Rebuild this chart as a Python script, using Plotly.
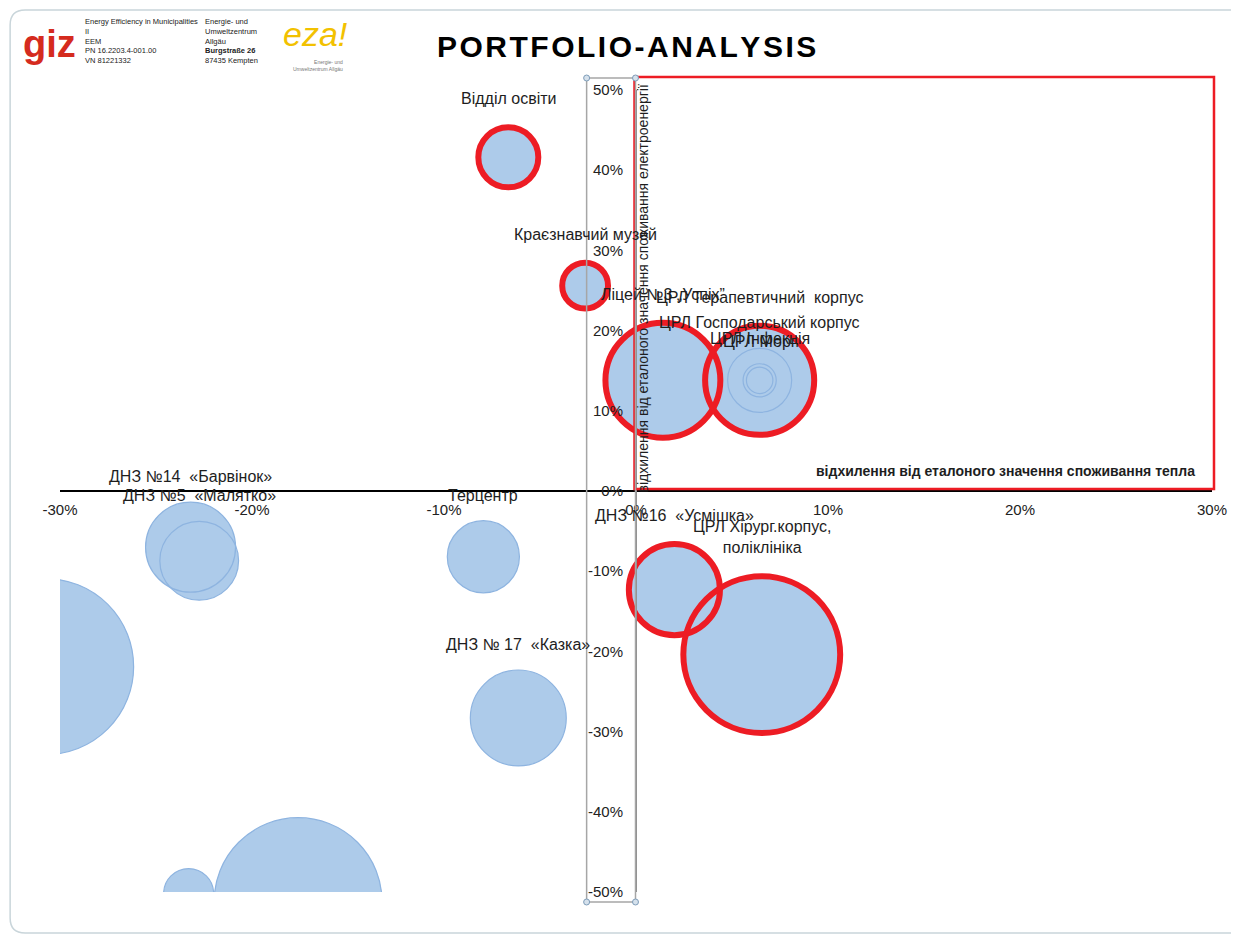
import math
import plotly.graph_objects as go

# ---------------- data ----------------
names = ["", "", "",
         "ДНЗ №14  «Барвінок»", "ДНЗ №5  «Малятко»", "Терцентр", "ДНЗ № 17  «Казка»",
         "Відділ освіти", "Краєзнавчий музей", "Ліцей №3 „Успіх”",
         "ЦРЛ Терапевтичний  корпус", "ЦРЛ Господарський корпус", "ЦРЛ Інфекція", "ЦРЛ Морг",
         "ДНЗ №16  «Усмішка»", "ЦРЛ Хірург.корпус,<br>поліклініка"]
heat_dev = [-0.3075, -0.176, -0.233, -0.232, -0.2275, -0.0795, -0.0613,
            -0.0665, -0.0265, 0.014, 0.0644, 0.0644, 0.0644, 0.0644, 0.020, 0.0655]
elec_dev = [-0.219, -0.512, -0.502, -0.070, -0.087, -0.082, -0.283,
            0.416, 0.256, 0.138, 0.138, 0.138, 0.138, 0.138, -0.123, -0.204]
bubble_size = [310, 282, 25, 81, 62, 52, 92, 36, 21, 132, 119, 41, 11, 7, 83, 246]
highlight = [0, 0, 0, 0, 0, 0, 0, 1, 1, 1, 1, 0, 0, 0, 1, 1]

x_ticks = [-0.3, -0.2, -0.1, 0.0, 0.1, 0.2, 0.3]
x_tick_labels = ["-30%", "-20%", "-10%", "0%", "10%", "20%", "30%"]
y_ticks = [-0.5, -0.4, -0.3, -0.2, -0.1, 0.0, 0.1, 0.2, 0.3, 0.4, 0.5]
y_tick_labels = ["-50%", "-40%", "-30%", "-20%", "-10%", "0%", "10%", "20%", "30%", "40%", "50%"]

title_text = "PORTFOLIO-ANALYSIS"
x_title = "відхилення від еталоного значення споживання тепла"
y_title = "відхилення від еталоного значення споживання електроенергії"

# ---------------- style ----------------
FILL = "#ADCBEA"
BLUE_LINE = "#8EB4E0"
RED = "#ED1C24"
FONT = "Liberation Sans, Arial, sans-serif"
SIZEREF = 0.02
RING = 6
OFF = 8                      # page body margin
W, H = 1231, 928
L, R, T, B = 52, 24, 82, 44

line_colors = [RED if h else BLUE_LINE for h in highlight]
line_widths = [RING if h else 1.2 for h in highlight]

fig = go.Figure()
fig.add_trace(go.Scatter(
    x=heat_dev, y=elec_dev, mode="markers", hoverinfo="skip", showlegend=False,
    marker=dict(size=bubble_size, sizemode="area", sizeref=SIZEREF, color=FILL,
                line=dict(width=0), opacity=1),
))
fig.add_trace(go.Scatter(
    x=heat_dev, y=elec_dev, mode="markers", text=names, hoverinfo="text+x+y", showlegend=False,
    marker=dict(size=bubble_size, sizemode="area", sizeref=SIZEREF, color="rgba(0,0,0,0)",
                opacity=1, line=dict(color=line_colors, width=line_widths)),
))

pw, ph = W - L - R, H - T - B
def px(xp):
    return (xp - OFF - L) / pw
def py(yp):
    return (OFF + H - B - yp) / ph

shapes = []
# chart frame (rounded)
x0, x1, y0, y1 = px(10), px(1237), py(933), py(10)
rx, ry = 15 / pw, 15 / ph
shapes.append(dict(
    type="path", xref="paper", yref="paper", layer="below",
    path=(f"M {x0+rx} {y1} L {x1} {y1} L {x1} {y0} L {x0+rx} {y0} "
          f"Q {x0} {y0} {x0} {y0+ry} L {x0} {y1-ry} Q {x0} {y1} {x0+rx} {y1} Z"),
    line=dict(color="#C9D5DA", width=1.5)))
# red quadrant frame
shapes.append(dict(type="rect", xref="paper", yref="paper", layer="above",
                   x0=px(636), x1=px(1217), y0=py(489), y1=py(77),
                   line=dict(color=RED, width=2.5)))
# selection box around vertical axis
shapes.append(dict(type="rect", xref="paper", yref="paper", layer="above",
                   x0=px(588), x1=px(637), y0=py(902), y1=py(78),
                   line=dict(color="#A6A6A6", width=1.5)))
for cx, cy in [(588, 78), (637, 78), (588, 902), (637, 902)]:
    shapes.append(dict(type="circle", xref="paper", yref="paper", layer="above",
                       x0=px(cx - 3), x1=px(cx + 3), y0=py(cy + 3), y1=py(cy - 3),
                       fillcolor="#D5E1EC", line=dict(color="#7F9DB9", width=1)))

def ann(text, x, y, xa="center", ya="middle", **kw):
    d = dict(text=text, x=px(x), y=py(y), xref="paper", yref="paper",
             xanchor=xa, yanchor=ya, showarrow=False)
    d.update(kw)
    return d

annotations = [
    ann("\u200a".join(title_text), 628, 46,
        font=dict(family=FONT, size=30, color="#000000", weight="bold")),
    ann(x_title, 1200, 471, xa="right",
        font=dict(family=FONT, size=14, color="#1E1E1E", weight="bold")),
    ann(y_title, 645, 288, textangle=-90,
        font=dict(family=FONT, size=14, color="#1E1E1E")),
    # logos
    ann("giz", 49, 44, font=dict(family=FONT, size=38, color="#D52B1E", weight="bold")),
    ann("Energy Efficiency in Municipalities<br>II<br>EEM<br>PN 16.2203.4-001.00<br>VN 81221332",
        83, 15, xa="left", ya="top", align="left",
        font=dict(family=FONT, size=7.5, color="#222")),
    ann("Energie- und<br>Umweltzentrum<br>Allgäu<br><b>Burgstraße 26</b><br>87435 Kempten",
        203, 15, xa="left", ya="top", align="left",
        font=dict(family=FONT, size=7.5, color="#222")),
    ann("eza!", 316, 34, font=dict(family=FONT, size=34, color="#F2C100", style="italic")),
    ann("Energie- und<br>Umweltzentrum Allgäu", 346, 57, xa="right", ya="top", align="right",
        font=dict(family=FONT, size=5, color="#777")),
]

# data labels placed above each bubble (offset = bubble radius in px + gap)
for name, xv, yv, v, h in zip(names, heat_dev, elec_dev, bubble_size, highlight):
    if not name:
        continue
    radius_px = math.sqrt(2 * v / SIZEREF) / 2
    annotations.append(dict(
        text=name, x=xv, y=yv, xref="x", yref="y", xanchor="center", yanchor="bottom",
        yshift=radius_px + (RING / 2) * h + 15, showarrow=False, align="center",
        font=dict(family=FONT, size=16, color="#1E1E1E")))

fig.update_layout(
    width=W, height=H, margin=dict(l=L, r=R, t=T, b=B),
    paper_bgcolor="white", plot_bgcolor="white",
    shapes=shapes, annotations=annotations,
    xaxis=dict(range=[-0.3, 0.3], tickvals=x_ticks, ticktext=x_tick_labels, anchor="free",
               position=0.5, showline=True, linecolor="#000000", linewidth=1.5,
               showgrid=False, zeroline=False, ticks="", ticklabelstandoff=5,
               tickfont=dict(family=FONT, size=15, color="#222")),
    yaxis=dict(range=[-0.5, 0.5], tickvals=y_ticks, ticktext=y_tick_labels, anchor="free",
               position=0.5, showline=True, linecolor="#8C8C8C", linewidth=1,
               showgrid=False, zeroline=False, ticks="", ticklabelstandoff=10,
               tickfont=dict(family=FONT, size=15, color="#222")),
)

fig.write_html("out.html")
